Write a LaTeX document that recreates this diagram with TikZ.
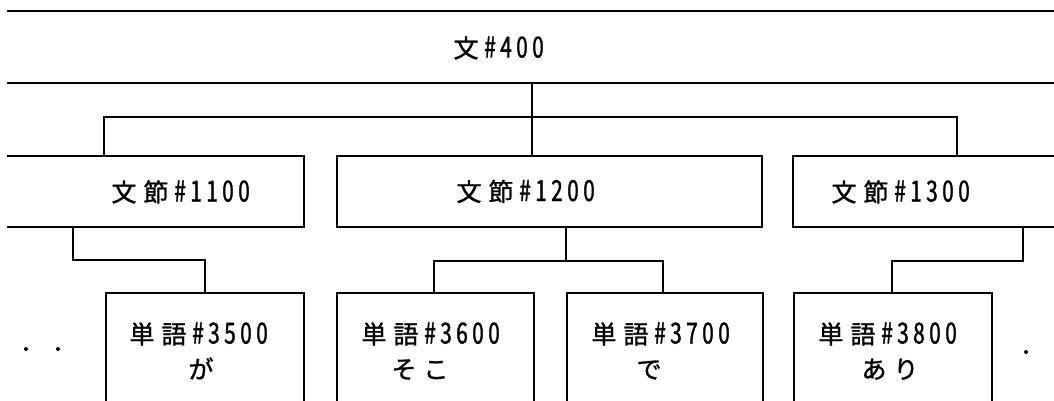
\documentclass[tikz,border=0pt]{standalone}
\usepackage{fontspec}
\newfontfamily\jp[FakeBold=1.2]{Noto Sans CJK JP}
\newfontfamily\dg[FakeStretch=0.72,FakeBold=1.2]{Noto Sans CJK JP}
\newcommand\zk[1]{\makebox[32pt]{\jp\fontsize{25}{25}\selectfont #1}}
\newcommand\hk[1]{\makebox[16pt]{\dg\fontsize{29}{29}\selectfont #1}}
\begin{document}
\begin{tikzpicture}[x=1pt,y=-1pt,
  box/.style={draw,line width=1.7pt,rectangle,inner sep=0pt,outer sep=0pt,anchor=north west},
  txt/.style={inner sep=0pt,anchor=base},
  link/.style={line width=1.3pt}]
\useasboundingbox (0,0) rectangle (1054,401);
\fill[white] (0,0) rectangle (1054,401);
\clip (7,0) rectangle (1054,401);
% boxes
\node[box,minimum width=1250pt,minimum height=72pt] (b400) at (-100,11) {};
\node[box,minimum width=354pt,minimum height=71pt] (b1100) at (-50,156) {};
\node[box,minimum width=425pt,minimum height=71pt] (b1200) at (337,156) {};
\node[box,minimum width=357pt,minimum height=71pt] (b1300) at (793,156) {};
\node[box,minimum width=198pt,minimum height=157pt] (w3500) at (106,293) {};
\node[box,minimum width=197pt,minimum height=157pt] (w3600) at (337,293) {};
\node[box,minimum width=196pt,minimum height=157pt] (w3700) at (567,293) {};
\node[box,minimum width=198pt,minimum height=157pt] (w3800) at (794,293) {};
% texts
\node[txt] (t400) at (498,57.5) {\zk{文}\hk{\#}\hk{4}\hk{0}\hk{0}};
\node[txt] (t1100) at (180,201.5) {\zk{文}\zk{節}\hk{\#}\hk{1}\hk{1}\hk{0}\hk{0}};
\node[txt] (t1200) at (525,201) {\zk{文}\zk{節}\hk{\#}\hk{1}\hk{2}\hk{0}\hk{0}};
\node[txt] (t1300) at (900,201.5) {\zk{文}\zk{節}\hk{\#}\hk{1}\hk{3}\hk{0}\hk{0}};
\node[txt] (t3500) at (198,343.5) {\zk{単}\zk{語}\hk{\#}\hk{3}\hk{5}\hk{0}\hk{0}};
\node[txt] (t3600) at (430,343.5) {\zk{単}\zk{語}\hk{\#}\hk{3}\hk{6}\hk{0}\hk{0}};
\node[txt] (t3700) at (660,343.5) {\zk{単}\zk{語}\hk{\#}\hk{3}\hk{7}\hk{0}\hk{0}};
\node[txt] (t3800) at (887,343.5) {\zk{単}\zk{語}\hk{\#}\hk{3}\hk{8}\hk{0}\hk{0}};
\node[txt] (s3500) at (201,378.5) {\zk{が}};
\node[txt] (s3600) at (420,378.5) {\zk{そ}\zk{こ}};
\node[txt] (s3700) at (649,378.5) {\zk{で}};
\node[txt] (s3800) at (890,378.5) {\zk{あ}\zk{り}};
% junctions
\coordinate (j0) at (532,117);
\coordinate (bl) at (104,117);
\coordinate (br) at (957,117);
\coordinate (k1a) at (73,260);
\coordinate (k1b) at (205,260);
\coordinate (k2) at (566,261);
\coordinate (k2a) at (434,261);
\coordinate (k2b) at (663,261);
\coordinate (k3a) at (1023,261);
\coordinate (k3b) at (892,261);
% connectors
\draw[link] (b400.south -| j0) -- (j0);
\draw[link] (b1100.north -| bl) -- (bl) -- (br) -- (b1300.north -| br);
\draw[link] (j0) -- (b1200.north -| j0);
\draw[link] (b1100.south -| k1a) -- (k1a) -- (k1b) -- (w3500.north -| k1b);
\draw[link] (b1200.south -| k2) -- (k2);
\draw[link] (w3600.north -| k2a) -- (k2a) -- (k2b) -- (w3700.north -| k2b);
\draw[link] (b1300.south -| k3a) -- (k3a) -- (k3b) -- (w3800.north -| k3b);
% continuation dots
\fill (26,349) circle (2pt);
\fill (58,349) circle (2pt);
\fill (1026,352) circle (2pt);
\end{tikzpicture}
\end{document}
